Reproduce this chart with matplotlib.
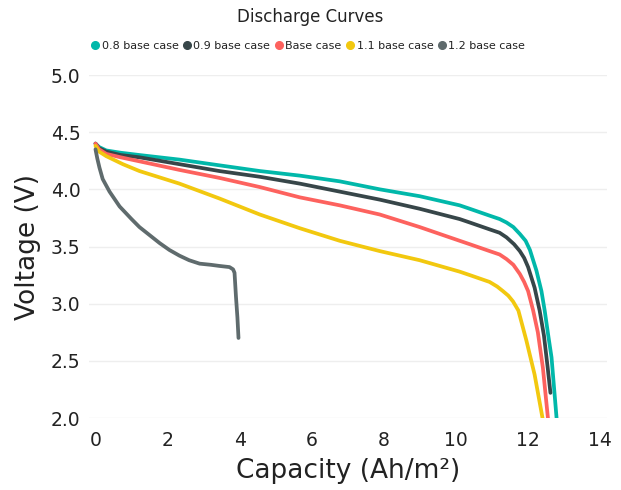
import matplotlib
matplotlib.use("Agg")
import matplotlib.pyplot as plt
from matplotlib.lines import Line2D

plt.rcParams['font.family'] = ['DejaVu Sans']

# ---- data ----
series_names = ["0.8 base case", "0.9 base case", "Base case", "1.1 base case", "1.2 base case"]
series_colors = ["#01B8AA", "#374649", "#FD625E", "#F2C80F", "#5F6B6D"]

cap_08 = [0, 0.1, 0.3, 0.7, 1.22, 2.33, 3.44, 4.56, 5.67, 6.78, 7.89, 9.0, 10.11, 10.39, 10.94,
          11.22, 11.41, 11.6, 11.78, 11.94, 12.06, 12.24, 12.38, 12.47, 12.57, 12.66, 12.8]
volt_08 = [4.40, 4.37, 4.34, 4.32, 4.30, 4.26, 4.21, 4.16, 4.12, 4.07, 4.00, 3.94, 3.86, 3.83, 3.77,
           3.74, 3.71, 3.67, 3.61, 3.55, 3.47, 3.29, 3.11, 2.94, 2.72, 2.53, 2.0]

cap_09 = [0, 0.1, 0.3, 0.7, 1.22, 2.33, 3.44, 4.56, 5.67, 6.78, 7.89, 9.0, 10.11, 10.39, 10.94,
          11.22, 11.41, 11.62, 11.78, 11.9, 12.01, 12.19, 12.33, 12.45, 12.55, 12.63]
volt_09 = [4.40, 4.36, 4.33, 4.30, 4.28, 4.22, 4.16, 4.11, 4.05, 3.98, 3.91, 3.83, 3.74, 3.71, 3.65,
           3.62, 3.58, 3.52, 3.46, 3.40, 3.32, 3.14, 2.94, 2.72, 2.45, 2.22]

cap_base = [0, 0.1, 0.3, 0.7, 1.22, 2.33, 3.44, 4.56, 5.67, 6.78, 7.89, 9.0, 10.11, 10.39, 10.94,
            11.22, 11.41, 11.6, 11.78, 11.9, 12.01, 12.15, 12.28, 12.42, 12.56]
volt_base = [4.40, 4.35, 4.31, 4.28, 4.245, 4.17, 4.10, 4.02, 3.93, 3.86, 3.78, 3.67, 3.55, 3.52, 3.46,
             3.43, 3.39, 3.34, 3.26, 3.19, 3.11, 2.94, 2.75, 2.44, 2.0]

cap_11 = [0, 0.1, 0.3, 0.76, 1.22, 2.33, 3.44, 4.56, 5.67, 6.78, 7.89, 9.0, 10.11, 10.39, 10.94,
          11.15, 11.31, 11.46, 11.59, 11.74, 11.96, 12.19, 12.41]
volt_11 = [4.38, 4.33, 4.29, 4.22, 4.16, 4.05, 3.92, 3.78, 3.66, 3.55, 3.46, 3.38, 3.28, 3.25, 3.19,
           3.15, 3.11, 3.07, 3.02, 2.94, 2.68, 2.38, 2.0]

cap_12 = [0, 0.05, 0.11, 0.2, 0.39, 0.67, 1.0, 1.22, 1.5, 1.78, 2.05, 2.33, 2.6, 2.89, 3.2,
          3.44, 3.72, 3.82, 3.86, 3.9, 3.94, 3.97]
volt_12 = [4.35, 4.27, 4.19, 4.09, 3.98, 3.85, 3.74, 3.67, 3.60, 3.53, 3.47, 3.42, 3.38, 3.35, 3.34,
           3.33, 3.32, 3.30, 3.27, 3.06, 2.88, 2.70]

x_ticks = [0, 2, 4, 6, 8, 10, 12, 14]
y_ticks = [2.0, 2.5, 3.0, 3.5, 4.0, 4.5, 5.0]

caps = [cap_08, cap_09, cap_base, cap_11, cap_12]
volts = [volt_08, volt_09, volt_base, volt_11, volt_12]

# ---- figure ----
W, H = 621, 490
fig = plt.figure(figsize=(W / 100, H / 100), dpi=100)
ax = fig.add_axes([89 / W, 1 - 418 / H, (607 - 89) / W, (418 - 75) / H])

for x, y, c, n in zip(caps, volts, series_colors, series_names):
    ax.plot(x, y, color=c, lw=2.7, label=n, solid_capstyle='round', solid_joinstyle='round',
            clip_on=True)

ax.set_xlim(-0.18, 14.2)
ax.set_ylim(2.0, 5.0)
ax.set_xticks(x_ticks)
ax.set_xticklabels([str(t) for t in x_ticks])
ax.set_yticks(y_ticks)
ax.set_yticklabels([f"{t:.1f}" for t in y_ticks])
ax.tick_params(axis='both', length=0, labelsize=13.5, colors='#222222')
ax.tick_params(axis='x', pad=9)
ax.tick_params(axis='y', pad=6)
ax.grid(axis='y', color='#EEEEEE', lw=1)
ax.set_axisbelow(True)
for s in ax.spines.values():
    s.set_visible(False)

ax.set_xlabel("Capacity (Ah/m²)", fontsize=19, color='#222222', labelpad=6)
ax.set_ylabel("Voltage (V)", fontsize=19, color='#222222', labelpad=7)

fig.text(0.5, 1 - 17 / H, "Discharge Curves", ha='center', va='center', fontsize=12, color='#222222')

handles = [Line2D([], [], marker='o', ls='none', color=c, markersize=5.5) for c in series_colors]
fig.legend(handles, series_names, loc='center', bbox_to_anchor=(0.497, 1 - 46 / H), ncol=5,
           frameon=False, fontsize=8, handlelength=0.6, handletextpad=0.25, columnspacing=0.5,
           borderpad=0, labelcolor='#222222')

fig.savefig("out.png", dpi=100)
